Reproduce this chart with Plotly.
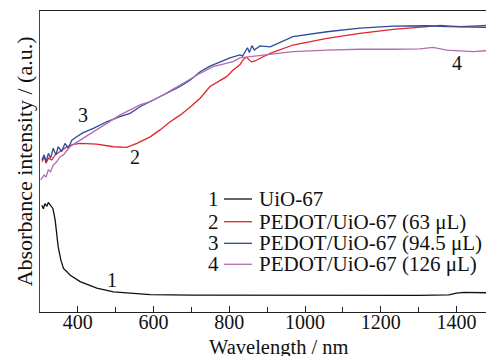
import plotly.graph_objects as go

# ---- data ----
uio_wl = [305, 309, 313, 318, 322, 328, 334, 340, 344, 348, 355, 362, 371, 379, 406, 450, 494, 538, 591,
          700, 900, 1100, 1300, 1380, 1400, 1420, 1478]
uio_ab = [0.355, 0.343, 0.360, 0.351, 0.364, 0.355, 0.344, 0.306, 0.261, 0.217, 0.173, 0.145, 0.134, 0.123,
          0.101, 0.079, 0.067, 0.062, 0.058, 0.056, 0.055, 0.055, 0.055, 0.057, 0.063, 0.065, 0.064]

p63_wl = [305, 311, 316, 322, 331, 340, 353, 371, 388, 406, 450, 494, 529, 556, 591, 617, 643, 670, 697,
          723, 749, 776, 793, 810, 828, 836, 845, 858, 868, 881, 908, 968, 1058, 1145, 1233, 1322, 1357,
          1410, 1478]
p63_ab = [0.499, 0.516, 0.494, 0.511, 0.505, 0.522, 0.533, 0.549, 0.557, 0.560, 0.558, 0.549, 0.547, 0.560,
          0.582, 0.605, 0.631, 0.654, 0.681, 0.710, 0.749, 0.771, 0.782, 0.804, 0.821, 0.837, 0.847, 0.831,
          0.834, 0.843, 0.859, 0.887, 0.909, 0.926, 0.939, 0.948, 0.952, 0.948, 0.952]

p945_wl = [305, 311, 316, 322, 328, 335, 342, 348, 357, 366, 375, 384, 397, 414, 441, 476, 511, 538, 564,
           591, 617, 643, 670, 697, 723, 749, 776, 802, 828, 835, 848, 853, 860, 866, 881, 908, 968, 1058,
           1145, 1233, 1322, 1375, 1478]
p945_ab = [0.505, 0.522, 0.499, 0.527, 0.511, 0.544, 0.522, 0.549, 0.533, 0.560, 0.544, 0.571, 0.582, 0.596,
           0.610, 0.632, 0.649, 0.660, 0.682, 0.699, 0.715, 0.731, 0.749, 0.771, 0.798, 0.817, 0.832, 0.844,
           0.854, 0.850, 0.878, 0.862, 0.885, 0.870, 0.884, 0.881, 0.915, 0.931, 0.943, 0.950, 0.951, 0.948,
           0.946]

p126_wl = [302, 311, 316, 322, 328, 335, 344, 353, 362, 379, 406, 450, 511, 564, 591, 617, 670, 723, 757,
           810, 828, 855, 908, 968, 1058, 1145, 1233, 1304, 1338, 1375, 1444, 1478]
p126_ab = [0.439, 0.455, 0.448, 0.472, 0.466, 0.488, 0.499, 0.516, 0.522, 0.549, 0.571, 0.605, 0.654, 0.688,
           0.699, 0.715, 0.754, 0.793, 0.815, 0.832, 0.844, 0.848, 0.854, 0.865, 0.870, 0.873, 0.873, 0.874,
           0.879, 0.870, 0.865, 0.868]

series_names = ["UiO-67", "PEDOT/UiO-67 (63 μL)", "PEDOT/UiO-67 (94.5 μL)", "PEDOT/UiO-67 (126 μL)"]
series_nums = ["1", "2", "3", "4"]
series_colors = ["#111111", "#e3232c", "#2b4c9b", "#b26cb4"]

# curve label positions (wavelength, absorbance)
label_wl = [489, 551, 414, 1401]
label_ab = [0.106, 0.516, 0.654, 0.826]

x_ticks = [400, 600, 800, 1000, 1200, 1400]

FONT = "'Liberation Serif', 'Times New Roman', Times, serif"

fig = go.Figure()
xs = [uio_wl, p63_wl, p945_wl, p126_wl]
ys = [uio_ab, p63_ab, p945_ab, p126_ab]
for x, y, name, c in zip(xs, ys, series_names, series_colors):
    fig.add_trace(go.Scatter(x=x, y=y, mode="lines", name=name,
                             line=dict(color=c, width=1.3), showlegend=False))

annotations = []
for n, xw, ya in zip(series_nums, label_wl, label_ab):
    annotations.append(dict(x=xw, y=ya, xref="x", yref="y", text=n, showarrow=False,
                            font=dict(family=FONT, size=20, color="#111")))

# manual legend (number, line sample, label)
row_y = [0.3754, 0.300, 0.2282, 0.1585]
shapes = []
for n, name, c, ry in zip(series_nums, series_names, series_colors, row_y):
    annotations.append(dict(x=0.389, y=ry, xref="paper", yref="paper", text=n, showarrow=False,
                            xanchor="center", yanchor="middle",
                            font=dict(family=FONT, size=21, color="#111")))
    annotations.append(dict(x=0.4865, y=ry, xref="paper", yref="paper", text=name, showarrow=False,
                            xanchor="left", yanchor="middle",
                            font=dict(family=FONT, size=21, color="#111")))
    shapes.append(dict(type="line", xref="paper", yref="paper", x0=0.4126, x1=0.4753,
                       y0=ry, y1=ry, line=dict(color=c, width=1.3)))

# axis titles (the original figure is cropped on the right)
annotations.append(dict(x=0.536, y=-0.118, xref="paper", yref="paper", text="Wavelength / nm",
                        showarrow=False, xanchor="center", yanchor="middle",
                        font=dict(family=FONT, size=20.5, color="#111")))
annotations.append(dict(x=-0.034, y=0.5, xref="paper", yref="paper",
                        text="Absorbance intensity / (a.u.)", textangle=-90,
                        showarrow=False, xanchor="center", yanchor="middle",
                        font=dict(family=FONT, size=22, color="#111")))

fig.update_layout(
    width=486, height=356,
    margin=dict(l=40, r=0, t=11, b=44),
    paper_bgcolor="white", plot_bgcolor="white",
    font=dict(family=FONT, size=20, color="#111"),
    annotations=annotations, shapes=shapes,
    showlegend=False,
)
fig.update_xaxes(range=[300, 1478], showgrid=False, zeroline=False,
                 showline=True, linecolor="#222", linewidth=1.3, mirror=True,
                 ticks="inside", ticklen=6, tickcolor="#222", tickwidth=1,
                 tickvals=x_ticks, tickfont=dict(family=FONT, size=20, color="#111"),
                 ticklabelstandoff=-8,
                 minor=dict(dtick=100, tick0=300, ticks="inside", ticklen=5, tickcolor="#222"))
fig.update_yaxes(range=[0, 1], showgrid=False, zeroline=False,
                 showline=True, linecolor="#444", linewidth=1.3, mirror=False,
                 showticklabels=False, ticks="")

fig.write_html("out.html")
